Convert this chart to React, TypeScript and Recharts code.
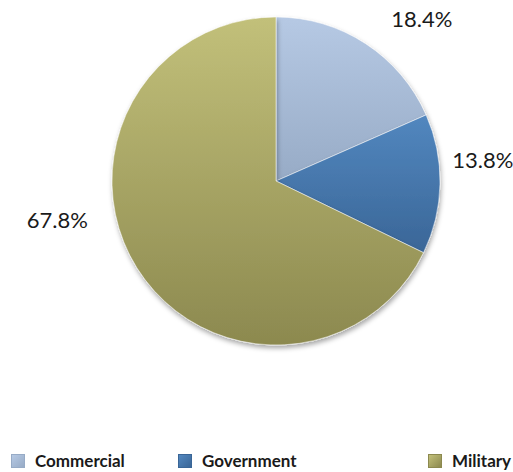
import { PieChart, Pie, Cell } from "recharts"

// Share of total by sector
const sectors = ["Commercial", "Government", "Military"]
const shares = [18.4, 13.8, 67.8]

// top/bottom gradient stops for each slice
const topColors = ["#b6c9e4", "#5287bf", "#c2c07a"]
const bottomColors = ["#97abc6", "#3a6697", "#8c894f"]

// hand-tuned label offsets (angle in degrees, distance from centre)
const labelSpots = [
  { angle: 48, dist: 218 },
  { angle: 6, dist: 208 },
  { angle: 190, dist: 222 },
]

const data = sectors.map((name, i) => ({ name, value: shares[i] }))

const RAD = Math.PI / 180

const renderLabel = (props: any) => {
  const { cx, cy, index, value } = props
  const spot = labelSpots[index]
  const x = cx + spot.dist * Math.cos(spot.angle * RAD)
  const y = cy - spot.dist * Math.sin(spot.angle * RAD)
  return (
    <text
      x={x}
      y={y}
      textAnchor="middle"
      dominantBaseline="central"
      fill="#1a1a1a"
      fontSize={22}
      fontFamily="Lato, sans-serif"
    >
      {value.toFixed(1)}%
    </text>
  )
}

const legendX = [11, 178, 428]

export default function App() {
  return (
    <div style={{ position: "absolute", left: 0, top: 0, width: 513, height: 472, background: "#fff" }}>
      <PieChart width={513} height={472} margin={{ top: 0, right: 0, bottom: 0, left: 0 }}>
        <defs>
          {sectors.map((s, i) => (
            <linearGradient key={s} id={`grad-${i}`} x1="0" y1="0" x2="0" y2="1">
              <stop offset="0%" stopColor={topColors[i]} />
              <stop offset="100%" stopColor={bottomColors[i]} />
            </linearGradient>
          ))}
          <filter id="pieShadow" x="-10%" y="-10%" width="120%" height="125%">
            <feDropShadow dx="1" dy="3" stdDeviation="2.5" floodColor="#000" floodOpacity="0.35" />
          </filter>
        </defs>
        <Pie
          data={data}
          dataKey="value"
          nameKey="name"
          cx={276}
          cy={181}
          outerRadius={164}
          startAngle={90}
          endAngle={-270}
          stroke="rgba(255,255,255,0.5)"
          strokeWidth={1}
          label={renderLabel}
          labelLine={false}
          isAnimationActive={false}
          style={{ filter: "url(#pieShadow)" }}
        >
          {data.map((d, i) => (
            <Cell key={d.name} fill={`url(#grad-${i})`} />
          ))}
        </Pie>
      </PieChart>
      {sectors.map((s, i) => (
        <div
          key={s}
          style={{
            position: "absolute",
            left: legendX[i],
            top: 451,
            height: 20,
            display: "flex",
            alignItems: "center",
            gap: 10,
            fontFamily: "Lato, sans-serif",
            fontWeight: 700,
            fontSize: 17,
            lineHeight: "20px",
            color: "#1a1a1a",
          }}
        >
          <div
            style={{
              width: 14,
              height: 14,
              background: `linear-gradient(135deg, ${topColors[i]}, ${bottomColors[i]})`,
              border: `1px solid ${bottomColors[i]}`,
              boxSizing: "border-box",
            }}
          />
          <span>{s}</span>
        </div>
      ))}
    </div>
  )
}
